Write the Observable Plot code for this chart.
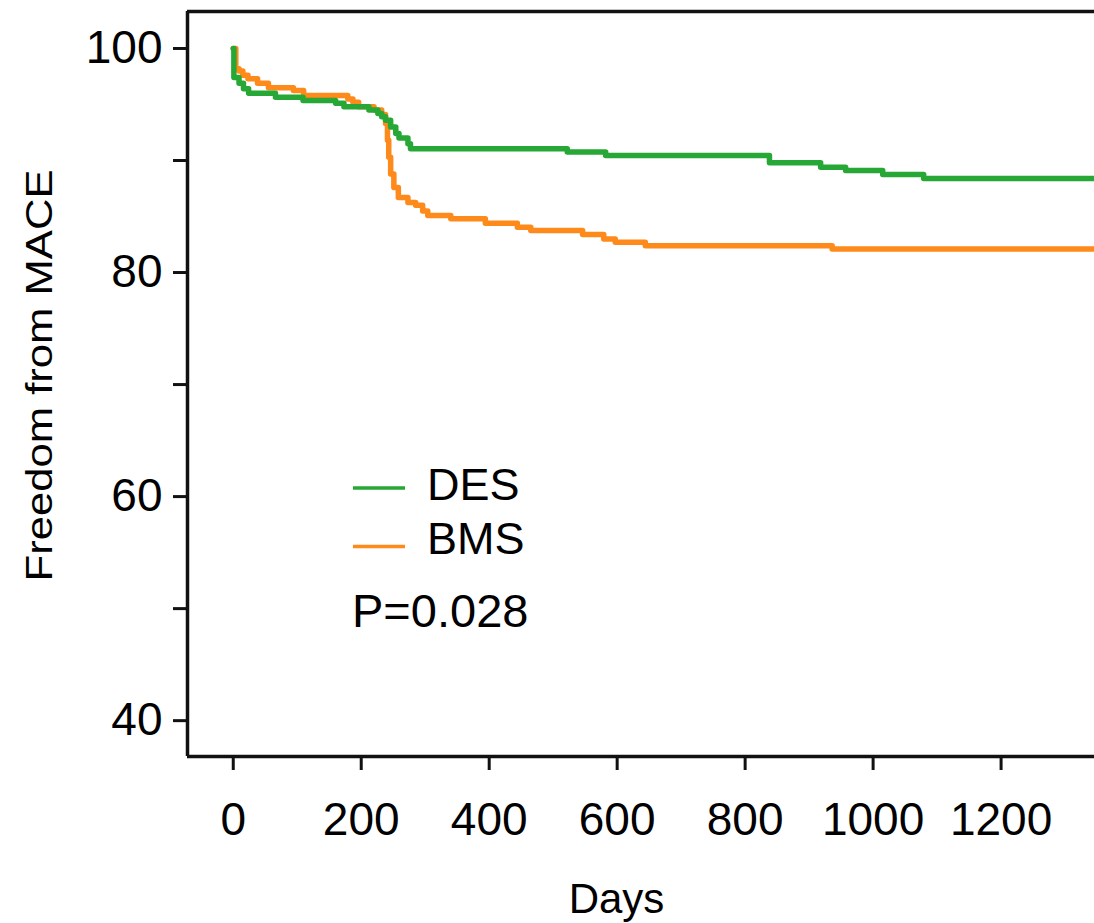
<!DOCTYPE html>
<html>
<head>
<meta charset="utf-8">
<script src="https://cdn.jsdelivr.net/npm/d3@7"></script>
<script src="https://cdn.jsdelivr.net/npm/@observablehq/plot@0.6"></script>
<style>
  html, body { margin: 0; padding: 0; background: #fff; }
  #wrap { position: relative; width: 1094px; height: 923px; overflow: hidden; }
  #legend { position: absolute; left: 0; top: 0; pointer-events: none; }
</style>
</head>
<body>
<div id="wrap"></div>
<script>
// ---- data ----
const groups = ["DES", "BMS"];
const groupColors = ["#27a836", "#fd8a1a"];

const desDays = [0, 1, 9, 16, 24, 66, 109, 160, 173, 212, 226, 232, 238, 246, 254, 259, 273, 277, 522, 582, 838, 918, 957, 1015, 1079, 1346];
const desSurv = [100, 97.4, 96.9, 96.4, 96.0, 95.65, 95.35, 95.1, 94.8, 94.5, 94.2, 93.9, 93.6, 93.0, 92.4, 92.0, 91.5, 91.05, 90.75, 90.45, 89.8, 89.4, 89.1, 88.75, 88.4, 88.4];

const bmsDays = [0, 4, 9, 15, 23, 38, 55, 94, 110, 179, 187, 196, 220, 232, 238, 241, 243, 246, 251, 258, 273, 285, 296, 304, 340, 394, 444, 465, 546, 579, 597, 644, 936, 1346];
const bmsSurv = [100, 98.2, 98.0, 97.6, 97.3, 96.9, 96.5, 96.25, 95.8, 95.5, 95.2, 94.8, 94.5, 94.1, 93.3, 91.8, 90.3, 88.8, 87.6, 86.7, 86.25, 86.0, 85.5, 85.1, 84.8, 84.4, 84.05, 83.75, 83.4, 83.0, 82.7, 82.4, 82.1, 82.1];

const xTicks = [0, 200, 400, 600, 800, 1000, 1200];
const yTicks = [40, 50, 60, 70, 80, 90, 100];
const yTickLabels = ["40", "", "60", "", "80", "", "100"];
const xLabel = "Days";
const yLabel = "Freedom from MACE";
const pText = "P=0.028";

const xDomain = [-71.5, 1346];
const yDomain = [36.8, 103.3];

// ---- build table ----
const rows = [
  ...desDays.map((d, i) => ({group: "DES", day: d, surv: desSurv[i]})),
  ...bmsDays.map((d, i) => ({group: "BMS", day: d, surv: bmsSurv[i]}))
];
const font = "'Liberation Sans', Arial, Helvetica, sans-serif";

const chart = Plot.plot({
  width: 1094,
  height: 923,
  marginLeft: 187,
  marginRight: 0,
  marginTop: 11,
  marginBottom: 167,
  x: {domain: xDomain},
  y: {domain: yDomain},
  color: {domain: groups, range: groupColors},
  style: {fontFamily: font, background: "white", color: "black", overflow: "visible"},
  marks: [
    Plot.line(rows.filter(r => r.group === "BMS"), {x: "day", y: "surv", stroke: "group", curve: "step-after", strokeWidth: 5.5}),
    Plot.line(rows.filter(r => r.group === "DES"), {x: "day", y: "surv", stroke: "group", curve: "step-after", strokeWidth: 5.5}),
    Plot.ruleX([xDomain[0]], {stroke: "#111", strokeWidth: 3.5}),
    Plot.ruleY([yDomain[0], yDomain[1]], {stroke: "#111", strokeWidth: 3.5}),
    Plot.axisX({ticks: xTicks, tickSize: 14, tickPadding: 32, fontSize: 46, strokeWidth: 3, stroke: "#111", label: null, tickFormat: d => String(d)}),
    Plot.axisY({ticks: yTicks, tickSize: 14, tickPadding: 11, fontSize: 46, strokeWidth: 3, stroke: "#111", label: null,
      tickFormat: d => yTickLabels[yTicks.indexOf(d)]}),
    Plot.text([xLabel], {frameAnchor: "bottom", lineAnchor: "top", dy: 127, dx: -24.5, fontSize: 42, fill: "black"}),
    Plot.text([yLabel], {frameAnchor: "left", rotate: -90, lineAnchor: "middle", dx: -147, dy: -8.5, fontSize: 36, fill: "black"})
  ]
});

const wrap = document.getElementById("wrap");
wrap.appendChild(chart);

// stretch the y label to the length seen in the reference (start-anchored, centred manually)
const yLabelLength = 412;
d3.select(chart).selectAll("text").filter(function() { return this.textContent === yLabel; })
  .attr("text-anchor", "start")
  .attr("x", -yLabelLength / 2)
  .attr("textLength", yLabelLength)
  .attr("lengthAdjust", "spacingAndGlyphs");

// ---- legend overlay ----
const leg = d3.select(wrap).append("svg")
  .attr("id", "legend").attr("width", 1094).attr("height", 923)
  .style("font-family", font);
const legY = [488, 546.5];
const legTextY = [500, 554];
groups.forEach((g, i) => {
  leg.append("line").attr("x1", 353).attr("x2", 405).attr("y1", legY[i]).attr("y2", legY[i])
    .attr("stroke", groupColors[i]).attr("stroke-width", 3.5);
  leg.append("text").attr("x", 427).attr("y", legTextY[i]).attr("font-size", 45).attr("fill", "black").text(g);
});
leg.append("text").attr("x", 352).attr("y", 627).attr("font-size", 47).attr("fill", "black").text(pText);
</script>
</body>
</html>
